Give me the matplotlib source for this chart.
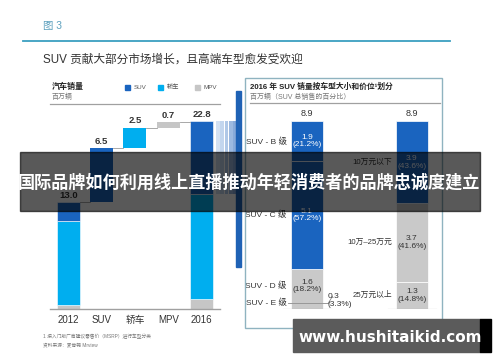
import matplotlib
matplotlib.use("Agg")
import matplotlib.pyplot as plt
from matplotlib.patches import Rectangle
from matplotlib.lines import Line2D

plt.rcParams['font.family'] = ['Liberation Sans', 'Noto Sans CJK SC', 'DejaVu Sans']

# ---------------- data ----------------
wf_categories = ['2012', 'SUV', '轿车', 'MPV', '2016']
seg_names = ['MPV', '轿车', 'SUV']          # bottom -> top stacking order
stack_2012 = [0.5, 10.2, 2.3]
stack_2016 = [1.2, 12.7, 8.9]
increments = [6.5, 2.5, 0.7]               # SUV, 轿车, MPV growth
legend_labels = ['SUV', '轿车', 'MPV']

size_labels = ['SUV - B 级', 'SUV - C 级', 'SUV - D 级', 'SUV - E 级']
size_vals = [1.9, 5.1, 1.6, 0.3]
size_pct = [21.2, 57.2, 18.2, 3.3]
price_labels = ['10万元以下', '10万–25万元', '25万元以上']
price_vals = [3.9, 3.7, 1.3]
price_pct = [43.6, 41.6, 14.8]

# ---------------- style ----------------
C_SUV = '#1a64bf'
C_CAR = '#00aeef'
C_MPV = '#c6c6c6'
C_GREY = '#c9c9c9'
seg_colors = {'SUV': C_SUV, '轿车': C_CAR, 'MPV': C_MPV}
TXT = '#333333'

W, H = 500, 362
fig = plt.figure(figsize=(W / 100, H / 100), dpi=100)


def fx(px):
    return px / W


def fy(py):
    return 1 - py / H


def fig_line(x0, y0, x1, y1, color, lw, z=2):
    fig.add_artist(Line2D([fx(x0), fx(x1)], [fy(y0), fy(y1)], color=color, lw=lw, zorder=z))


# ---------------- header ----------------
fig.text(fx(43), fy(26), '图 3', fontsize=7.5, color='#5a9fbd', va='center', ha='left')
fig_line(23, 41, 450, 41, '#3a9fc0', 1.3)
fig.text(fx(43), fy(60), 'SUV 贡献大部分市场增长，且高端车型愈发受欢迎', fontsize=8.4,
         color=TXT, va='center', ha='left')

# ---------------- left waterfall ----------------
ax = fig.add_axes([fx(50), fy(309), (245 - 50) / W, (309 - 88) / H])
ax.set_xlim(-0.55, 5.306)
ax.set_ylim(0, 26.79)
for s in ax.spines.values():
    s.set_visible(False)
ax.set_yticks([])
bw = 0.69

# 2012 stacked
bottom = 0
for name, v in zip(seg_names, stack_2012):
    ax.bar(0, v, bw, bottom=bottom, color=seg_colors[name], edgecolor='white', linewidth=0.4)
    bottom += v
total_2012 = sum(stack_2012)

# increments
inc_colors = [C_SUV, C_CAR, C_MPV]
level = total_2012
tops = [total_2012]
for i, (v, c) in enumerate(zip(increments, inc_colors)):
    ax.bar(i + 1, v, bw, bottom=level, color=c)
    level += v
    tops.append(level)

# 2016 stacked
bottom = 0
for name, v in zip(seg_names, stack_2016):
    ax.bar(4, v, bw, bottom=bottom, color=seg_colors[name], edgecolor='white', linewidth=0.4)
    bottom += v
total_2016 = sum(stack_2016)
tops.append(total_2016)

# connectors
for i in range(4):
    y = tops[i]
    ax.plot([i + bw / 2, i + 1 - bw / 2], [y, y], color='#9a9a9a', lw=0.6)

# value labels
wf_labels = [total_2012] + increments + [total_2016]
for i, (t, lab) in enumerate(zip(tops, wf_labels)):
    ax.annotate(f'{lab:.1f}', (i, t), xytext=(0, 1.5), textcoords='offset points',
                ha='center', va='bottom', fontsize=6.8, fontweight='bold', color=TXT)

# baseline
ax.plot([-0.55, 4.55], [0, 0], color='#a0a0a0', lw=1.0, clip_on=False)
ax.set_xticks(range(5))
ax.set_xticklabels(wf_categories, fontsize=7, color=TXT)
ax.tick_params(axis='x', length=0, pad=4)

# zoom stripes from 2016 SUV segment
suv_bottom = stack_2016[0] + stack_2016[1]
stripe_cols = ['#d3e1f2', '#c3d6ee', '#b0c8e7', '#9cb9e0', '#88aad9']
for k, c in enumerate(stripe_cols):
    ax.bar(4.436 + (k + 0.5) * 0.126, total_2016 - suv_bottom, 0.112,
           bottom=suv_bottom, color=c)
# vertical bracket bar
ax.add_patch(Rectangle((0.9535, 0.19), 0.027, 0.795, transform=ax.transAxes,
                       color='#1f62b5', clip_on=False))

# header for left panel
fig.text(fx(52), fy(87), '汽车销量', fontsize=5.8, fontweight='bold', color='#222', va='center')
fig.text(fx(52), fy(97), '百万辆', fontsize=5, color='#777', va='center')
fig_line(50, 104, 220, 104, '#a0a0a0', 0.9)
for lx, lab in zip([125, 158, 195], legend_labels):
    fig.add_artist(Rectangle((fx(lx), fy(90)), 5 / W, 5 / H, color=seg_colors[lab], zorder=2))
    fig.text(fx(lx + 9), fy(87.5), lab, fontsize=4.5, color='#555', va='center')

# footnotes
fig.text(fx(43), fy(336), '1 按入门版厂商建议零售价（MSRP）进行车型分类', fontsize=3.4, color='#777', va='center')
fig.text(fx(43), fy(345), '资料来源：麦肯锡 Mrview', fontsize=3.4, color='#777', va='center')

# ---------------- right panel ----------------
fig.add_artist(Rectangle((fx(245), fy(328)), (442 - 245) / W, (328 - 78) / H,
                         fill=False, edgecolor='#8fb3c0', lw=1.0, zorder=2))
fig.text(fx(250), fy(87), '2016 年 SUV 销量按车型大小和价位¹划分', fontsize=5.6,
         fontweight='bold', color='#222', va='center')
fig.text(fx(250), fy(97), '百万辆（SUV 总销售的百分比）', fontsize=5, color='#777', va='center')
fig_line(250, 103, 440, 103, '#a0a0a0', 0.9)

ax2 = fig.add_axes([fx(245), fy(309), (442 - 245) / W, (309 - 88) / H])
ax2.set_xlim(-0.59, 1.286)
ax2.set_ylim(0, 10.47)
ax2.axis('off')
bw2 = 0.305

size_cols = [C_SUV, C_SUV, C_GREY, C_GREY]
price_cols = [C_SUV, C_GREY, C_GREY]


def stacked(x, vals, pcts, labels, cols):
    bottom = 0
    pos = []
    for v, p, lab, c in reversed(list(zip(vals, pcts, labels, cols))):
        ax2.bar(x, v, bw2, bottom=bottom, color=c, edgecolor='white', linewidth=0.5)
        pos.append((bottom + v / 2, v, p, lab, c))
        bottom += v
    ax2.annotate(f'{sum(vals):.1f}', (x, bottom), xytext=(0, 2), textcoords='offset points',
                 ha='center', va='bottom', fontsize=6.5, color=TXT)
    ax2.plot([x - 0.23, x + 0.23], [0, 0], color='#a0a0a0', lw=0.8)
    return pos


pos_size = stacked(0, size_vals, size_pct, size_labels, size_cols)
pos_price = stacked(1, price_vals, price_pct, price_labels, price_cols)

for yc, v, p, lab, c in pos_size:
    tc = 'white' if c == C_SUV else TXT
    if v >= 1:
        ax2.text(0, yc, f'{v:.1f}\n({p:.1f}%)', ha='center', va='center', fontsize=6,
                 color=tc, linespacing=1.1)
        ax2.annotate(lab, (-bw2 / 2, yc), xytext=(-3, 0), textcoords='offset points',
                     ha='right', va='center', fontsize=6, color=TXT)
    else:
        ax2.annotate(lab, (-bw2 / 2, yc), xytext=(-3, 2), textcoords='offset points',
                     ha='right', va='center', fontsize=6, color=TXT)
        ax2.plot([-bw2 / 2 - 0.03, bw2 / 2 + 0.05], [yc + 0.12, yc + 0.12], color='#888', lw=0.6)
        ax2.plot([bw2 / 2 + 0.05, bw2 / 2 + 0.09], [yc + 0.12, yc + 0.45], color='#888', lw=0.6)
        ax2.annotate(f'{v:.1f}\n({p:.1f}%)', (bw2 / 2, yc), xytext=(3, 4), textcoords='offset points',
                     ha='left', va='center', fontsize=6, color=TXT, linespacing=1.1)

for yc, v, p, lab, c in pos_price:
    tc = 'white' if c == C_SUV else TXT
    ax2.text(1, yc, f'{v:.1f}\n({p:.1f}%)', ha='center', va='center', fontsize=6,
             color=tc, linespacing=1.1)
    ax2.annotate(lab, (1 - bw2 / 2, yc), xytext=(-3, 0), textcoords='offset points',
                 ha='right', va='center', fontsize=5.6, color=TXT)

# ---------------- overlays ----------------
fig.text(fx(440), fy(349), '中国电动', fontsize=8, color='#d0d0d0', ha='center', va='center', zorder=3)
fig.add_artist(Rectangle((fx(20), fy(211)), (480 - 20) / W, (211 - 152) / H,
                         color='black', alpha=0.65, zorder=10))
fig.text(fx(249), fy(183), '国际品牌如何利用线上直播推动年轻消费者的品牌忠诚度建立',
         fontsize=12.3, fontweight='bold', color='white', ha='center', va='center',
         family=['Noto Sans CJK SC', 'DejaVu Sans'], zorder=11)

fig.add_artist(Rectangle((fx(293), fy(352)), (480 - 293) / W, (352 - 319) / H,
                         color='#5b5b5b', zorder=10))
fig.add_artist(Rectangle((fx(480), fy(352)), (491 - 480) / W, (352 - 319) / H,
                         color='black', zorder=10))
fig.text(fx(390), fy(337), 'www.hushitaikid.com', fontsize=11, fontweight='bold',
         color='white', ha='center', va='center', family=['DejaVu Sans'], zorder=11)

fig.savefig('out.png', dpi=100, facecolor='white')
